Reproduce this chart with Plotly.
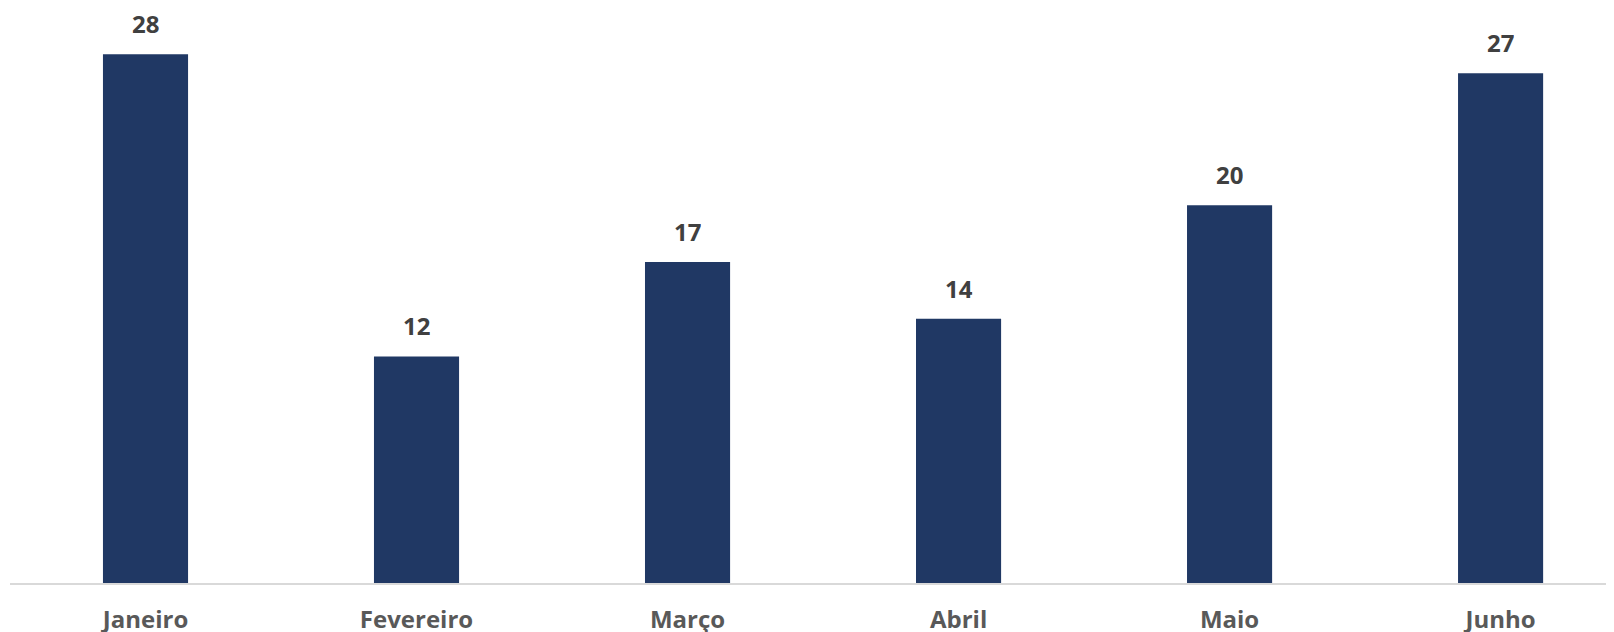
import plotly.graph_objects as go

categories = ["Janeiro", "Fevereiro", "Março", "Abril", "Maio", "Junho"]
values = [28, 12, 17, 14, 20, 27]

BAR_COLOR = "#203864"
FONT = "Open Sans"

fig = go.Figure()
fig.add_trace(go.Bar(
    x=categories,
    y=values,
    marker=dict(color=BAR_COLOR, line=dict(width=0)),
    width=0.314,
    hoverinfo="skip",
))

for c, v in zip(categories, values):
    fig.add_annotation(
        x=c, y=v, text=f"<b>{v}</b>", showarrow=False,
        yanchor="bottom", yshift=16, height=26, valign="middle",
        font=dict(family=FONT, size=24, color="#404040"),
    )

fig.update_layout(
    width=1614, height=632,
    margin=dict(l=2, r=0, t=0, b=57),
    paper_bgcolor="white", plot_bgcolor="white",
    showlegend=False,
    xaxis=dict(
        type="category",
        range=[-0.5, 5.448],
        showline=True, linecolor="#d9d9d9", linewidth=1.5,
        showgrid=False, zeroline=False, ticks="",
        ticklabelstandoff=14,
        tickfont=dict(family=FONT, size=24, color="#595959", weight="bold"),
    ),
    yaxis=dict(
        range=[0, 30.45],
        visible=False, showgrid=False, zeroline=False,
    ),
)

fig.write_html("out.html")
